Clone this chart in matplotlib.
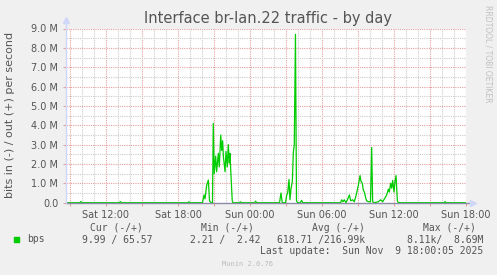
import matplotlib
matplotlib.use("Agg")
import matplotlib.pyplot as plt
import numpy as np

# hours relative to Sun 00:00, traffic in Mbit/s (out, +)
hours = [-15.33, -14.18, -14.1, -14.02, -10.88, -10.8, -10.72, -5.18, -5.1, -5.02,
         -3.96, -3.83, -3.75, -3.61, -3.47, -3.375, -3.25, -3.125, -3.06, -2.98,
         -2.86, -2.78, -2.64, -2.56, -2.44, -2.36, -2.28, -2.22, -2.08, -2.0,
         -1.89, -1.81, -1.72, -1.67, -1.58, -1.48, -1.42,
         -0.88, -0.8, -0.72, 0.39, 0.47, 0.55,
         2.46, 2.58, 2.69, 2.96, 3.06, 3.14, 3.25, 3.33, 3.42, 3.53, 3.61, 3.69,
         3.79, 3.875, 3.96, 4.2, 4.3, 4.4,
         7.54, 7.64, 7.75, 7.86, 8.0, 8.19, 8.28, 8.39, 8.56, 8.69, 8.83, 8.94,
         9.03, 9.17, 9.25, 9.36, 9.44, 9.53, 9.64, 9.72, 9.86, 10.04, 10.14,
         10.22, 10.36, 10.69, 10.89, 11.06, 11.25, 11.39, 11.53, 11.61, 11.72,
         11.81, 11.89, 12.0, 12.08, 12.17, 12.28, 12.36,
         16.17, 16.25, 16.33, 18.0]
traffic = [0, 0, 0.06, 0, 0, 0.06, 0, 0, 0.05, 0,
           0, 0.4, 0.2, 0.9, 1.17, 0.1, 0, 0, 4.1, 1.5,
           2.4, 1.6, 2.55, 1.85, 3.5, 2.7, 3.2, 2.4, 1.6, 2.65,
           1.85, 3.0, 2.05, 2.55, 1.35, 0.1, 0,
           0, 0.05, 0, 0, 0.08, 0,
           0, 0.5, 0, 0, 0.4, 0.5, 1.2, 0.15, 0.75, 1.1, 2.6, 3.0,
           8.7, 0.1, 0, 0, 0.12, 0,
           0, 0.15, 0.05, 0.15, 0, 0.25, 0.4, 0.1, 0.15, 0.05, 0.35, 0.65,
           0.9, 1.4, 1.1, 1.0, 0.65, 0.55, 0.25, 0.1, 0.05, 0.05, 2.85,
           0.05, 0, 0.05, 0.15, 0.05, 0.25, 0.4, 0.7, 0.55, 1.0,
           0.75, 1.15, 0.55, 1.1, 1.4, 0.1, 0,
           0, 0.06, 0, 0]

tick_hours = [-12, -6, 0, 6, 12, 18]
tick_labels = ["Sat 12:00", "Sat 18:00", "Sun 00:00", "Sun 06:00", "Sun 12:00", "Sun 18:00"]
y_ticks = np.arange(0, 10) * 1e6
y_labels = ["0.0"] + [f"{v}.0 M" for v in range(1, 10)]

legend_head = ["Cur (-/+)", "Min (-/+)", "Avg (-/+)", "Max (-/+)"]
legend_vals = ["9.99 / 65.57", "2.21 /  2.42", "618.71 /216.99k", "8.11k/  8.69M"]

W, H = 497, 275
FONT = "#555555"
MGRID = "#e6a0a0"
GRID = "#cccccc"
AXIS = "#cfd6f8"

fig = plt.figure(figsize=(W / 100, H / 100), dpi=100)
fig.patch.set_facecolor("#f0f0f0")

x0, x1, ytop, ybot = 66, 466, 28.5, 202.7
ax = fig.add_axes([x0 / W, 1 - ybot / H, (x1 - x0) / W, (ybot - ytop) / H])
ax.set_facecolor("white")
ax.set_xlim(-15.333, 18)
ax.set_ylim(0, 9e6)
for s in ax.spines.values():
    s.set_visible(False)

# grid
for h in np.arange(-15, 19, 1):
    major = h % 3 == 0
    ax.axvline(h, color=MGRID if major else GRID, lw=0.8, ls=(0, (1, 1)), zorder=1)
for v in np.arange(0.5, 9.01, 0.5):
    major = v % 1 == 0
    ax.axhline(v * 1e6, color=MGRID if major else GRID, lw=0.8, ls=(0, (1, 1)), zorder=1)

ax.plot(hours, np.array(traffic) * 1e6, color="#00cc00", lw=0.9, zorder=3)

ax.set_xticks(tick_hours)
ax.set_xticklabels(tick_labels)
ax.set_xticks(np.arange(-15, 19, 3), minor=True)
ax.set_yticks(y_ticks)
ax.set_yticklabels(y_labels)
ax.tick_params(axis="both", which="both", length=2.5, width=0.8, color=MGRID,
               labelsize=7, labelcolor=FONT, pad=3)

# axes lines and arrows
ax.plot([-15.333, 18.35], [0, 0], color="#8c8ca8", lw=1.0, clip_on=False, zorder=4)
ax.plot([-15.333, -15.333], [0, 9.35e6], color=AXIS, lw=1.0, clip_on=False, zorder=4)
ax.plot([18.55], [0], marker=">", color=AXIS, ms=4, clip_on=False, zorder=4)
ax.plot([-15.333], [9.45e6], marker="^", color=AXIS, ms=4, clip_on=False, zorder=4)

fig.text(268 / W, 1 - 18 / H, "Interface br-lan.22 traffic - by day", ha="center",
         va="center", fontsize=10.5, color=FONT)
fig.text(10 / W, 1 - 115 / H, "bits in (-) / out (+) per second", rotation=90,
         ha="center", va="center", fontsize=8, color=FONT)
fig.text(488 / W, 1 - 5 / H, "RRDTOOL / TOBI OETIKER", rotation=270, ha="center",
         va="top", fontsize=5.5, color="#c0c0c0")

mono = "DejaVu Sans Mono"
for i, lab in enumerate(legend_head):
    fig.text([90, 201, 312.3, 423.3][i] / W, 1 - 228 / H, lab, family=mono,
             fontsize=7, color=FONT, va="center")
for i, lab in enumerate(legend_vals):
    fig.text([152.7, 261, 365, 483.3][i] / W, 1 - 239.5 / H, lab, family=mono,
             fontsize=7, color=FONT, va="center", ha="right")
fig.patches.append(plt.Rectangle((13.5 / W, 1 - 242 / H), 5.5 / W, 5.5 / H,
                                 transform=fig.transFigure, color="#00cc00"))
fig.text(26.7 / W, 1 - 239.5 / H, "bps", family=mono, fontsize=7, color=FONT, va="center")
fig.text(483.3 / W, 1 - 251.5 / H, "Last update:  Sun Nov  9 18:00:05 2025", family=mono,
         fontsize=7, color=FONT, va="center", ha="right")
fig.text(248 / W, 1 - 264 / H, "Munin 2.0.76", family=mono, fontsize=5,
         color="#bbbbbb", va="center", ha="center")

fig.savefig("out.png", dpi=100, facecolor=fig.get_facecolor())
